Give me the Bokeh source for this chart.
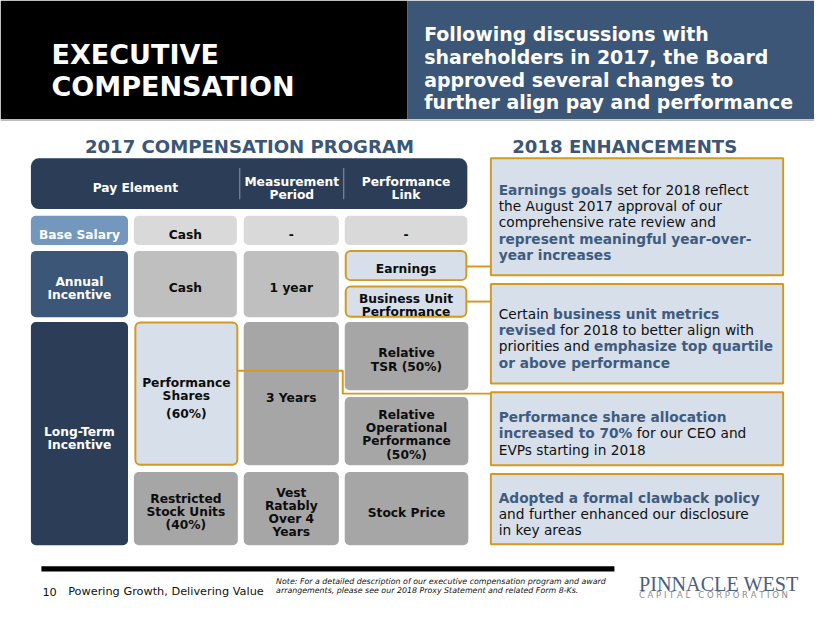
import glob
import os
import struct

from bokeh.plotting import figure
from bokeh.models import Range1d
from bokeh.core.properties import value
from bokeh.embed import file_html
from bokeh.resources import INLINE

# ------------------------------------------------------------------ content
TITLE = ["EXECUTIVE", "COMPENSATION"]
INTRO = ["Following discussions with",
         "shareholders in 2017, the Board",
         "approved several changes to",
         "further align pay and performance"]
LEFT_HEAD = "2017 COMPENSATION PROGRAM"
RIGHT_HEAD = "2018 ENHANCEMENTS"
TABLE_COLUMNS = [["Pay Element"], ["Measurement", "Period"], ["Performance", "Link"]]
PAY_ELEMENTS = [["Base Salary"], ["Annual", "Incentive"], ["Long-Term", "Incentive"]]
VEHICLES = [["Cash"], ["Cash"], ["Performance", "Shares", "(60%)"],
            ["Restricted", "Stock Units", "(40%)"]]
PERIODS = [["-"], ["1 year"], ["3 Years"], ["Vest", "Ratably", "Over 4", "Years"]]
LINKS = [["-"], ["Earnings"], ["Business Unit", "Performance"], ["Relative", "TSR (50%)"],
         ["Relative", "Operational", "Performance", "(50%)"], ["Stock Price"]]
ENH_EARNINGS = [[("Earnings goals", True), (" set for 2018 reflect", False)],
                [("the August 2017 approval of our", False)],
                [("comprehensive rate review and", False)],
                [("represent meaningful year-over-", True)],
                [("year increases", True)]]
ENH_BUSINESS = [[("Certain ", False), ("business unit metrics", True)],
                [("revised", True), (" for 2018 to better align with", False)],
                [("priorities and ", False), ("emphasize top quartile", True)],
                [("or above performance", True)]]
ENH_PSU = [[("Performance share allocation", True)],
           [("increased to 70%", True), (" for our CEO and", False)],
           [("EVPs starting in 2018", False)]]
ENH_CLAWBACK = [[("Adopted a formal clawback policy", True)],
                [("and further enhanced our disclosure", False)],
                [("in key areas", False)]]
FOOT_PAGE = "10"
FOOT_TAG = "Powering Growth, Delivering Value"
FOOT_NOTE = ["Note: For a detailed description of our executive compensation program and award",
             "arrangements, please see our 2018 Proxy Statement and related Form 8-Ks."]
LOGO = "PINNACLE WEST"
LOGO_SUB = "CAPITAL CORPORATION"

# ------------------------------------------------------------------ font metrics
class TTF:
    def __init__(self, path):
        d = open(path, "rb").read()
        self.d = d
        n = struct.unpack(">H", d[4:6])[0]
        t = {}
        for i in range(n):
            tag, _, off, ln = struct.unpack(">4sIII", d[12 + 16 * i:28 + 16 * i])
            t[tag.decode("latin1")] = off
        self.upem = struct.unpack(">H", d[t["head"] + 18:t["head"] + 20])[0]
        nh = struct.unpack(">H", d[t["hhea"] + 34:t["hhea"] + 36])[0]
        hm = t["hmtx"]
        self.adv = [struct.unpack(">H", d[hm + 4 * i:hm + 4 * i + 2])[0] for i in range(nh)]
        cm = t["cmap"]
        nsub = struct.unpack(">H", d[cm + 2:cm + 4])[0]
        sub = None
        for i in range(nsub):
            pid, eid, off = struct.unpack(">HHI", d[cm + 4 + 8 * i:cm + 12 + 8 * i])
            fmt = struct.unpack(">H", d[cm + off:cm + off + 2])[0]
            if fmt == 4 and pid in (0, 3):
                sub = cm + off
                if pid == 3:
                    break
        segx2 = struct.unpack(">H", d[sub + 6:sub + 8])[0]
        s = segx2 // 2
        self.ends = struct.unpack(">%dH" % s, d[sub + 14:sub + 14 + segx2])
        self.starts = struct.unpack(">%dH" % s, d[sub + 16 + segx2:sub + 16 + 2 * segx2])
        self.deltas = struct.unpack(">%dh" % s, d[sub + 16 + 2 * segx2:sub + 16 + 3 * segx2])
        self.rpos = sub + 16 + 3 * segx2
        self.roffs = struct.unpack(">%dH" % s, d[self.rpos:self.rpos + segx2])

    def glyph(self, ch):
        c = ord(ch)
        for i, e in enumerate(self.ends):
            if e >= c:
                if self.starts[i] > c:
                    return 0
                if self.roffs[i] == 0:
                    return (c + self.deltas[i]) & 0xFFFF
                a = self.rpos + 2 * i + self.roffs[i] + 2 * (c - self.starts[i])
                g = struct.unpack(">H", self.d[a:a + 2])[0]
                return (g + self.deltas[i]) & 0xFFFF if g else 0
        return 0

    def width(self, s, size):
        tot = 0
        for ch in s:
            g = self.glyph(ch)
            tot += self.adv[min(g, len(self.adv) - 1)]
        return tot / self.upem * size


class Approx:
    def __init__(self, k):
        self.k = k

    def width(self, s, size):
        return len(s) * self.k * size


def load(name, k):
    for root in ["/usr/share/fonts", "/usr/local/share/fonts", os.path.expanduser("~/.fonts"),
                 os.path.expanduser("~/.local/share/fonts")]:
        hits = glob.glob(os.path.join(root, "**", name), recursive=True)
        if hits:
            try:
                return TTF(hits[0])
            except Exception:
                pass
    return Approx(k)


FR = load("DejaVuSans.ttf", 0.58)
FB = load("DejaVuSans-Bold.ttf", 0.66)
FI = load("DejaVuSans-Oblique.ttf", 0.58)
FS = load("LiberationSerif-Regular.ttf", 0.62)


def fit(font, s, width):
    """font size (in slide units) that makes s span width slide units"""
    return width / font.width(s, 1.0)


# ------------------------------------------------------------------ figure
# The slide is laid out in 830 x 623 slide units and drawn into a 814 x 607 px figure.
W, H = 814, 607
K = W / 830.0  # px per slide unit (used for fonts, line widths and radii)

p = figure(width=W, height=H, x_range=Range1d(0, 830), y_range=Range1d(623, 0),
           output_backend="svg", toolbar_location=None, x_axis_type=None, y_axis_type=None,
           min_border=0, min_border_left=0, min_border_right=0, min_border_top=0,
           min_border_bottom=0)
p.grid.visible = False
p.outline_line_color = None
p.background_fill_color = "#FFFFFF"
p.border_fill_color = "#FFFFFF"

SANS = "DejaVu Sans"
NAVY = "#2C3E57"
SLATE = "#3B5676"
STEEL = "#7397BD"
PALE = "#D6DFEA"
GOLD = "#D4991F"
TXTBLUE = "#3F5B7E"


def box(l, r, t, b, fill, line=None, lw=0.0, radius=0):
    kw = dict(left=[l], right=[r], top=[t], bottom=[b], fill_color=fill,
              line_color=line, line_width=lw * K)
    if radius:
        kw["border_radius"] = int(round(radius * K))
    p.quad(**kw)


def seg(xs, ys, color, lw):
    p.line(x=xs, y=ys, line_color=color, line_width=lw * K)


def txt(x, y, s, size, color="#000000", style="bold", align="left", font=SANS):
    p.text(x=[x], y=[y], text=[s], text_font=value(font), text_font_size="%.2fpx" % (size * K),
           text_font_style=style, text_color=color, text_align=align,
           text_baseline="alphabetic")


# ---- header bands
box(0, 415, 0, 122, "#000000")
box(415, 830, 0, 122, SLATE)
seg([0, 830], [122.8, 122.8], "#BDBDBD", 1.5)

tsize = fit(FB, TITLE[1], 250)
for s, yb in zip(TITLE, [55, 88.5]):
    txt(52, yb, s, tsize, "#FFFFFF")

isize = fit(FB, INTRO[3], 377)
for s, yb in zip(INTRO, [34.5, 58, 81.3, 104.6]):
    txt(432, yb, s, isize, "#FFFFFF")

# ---- section headings
hsize = fit(FB, LEFT_HEAD, 337)
txt(253.8, 150, LEFT_HEAD, hsize, SLATE, align="center")
txt(636.5, 150, RIGHT_HEAD, hsize, SLATE, align="center")

# ---- table header
CS = 12.5
box(31, 476, 162, 214, NAVY, radius=8)
for xd in [244, 350]:
    seg([xd, xd], [172, 204], "#8A98AC", 1)
head_pos = [(137.5, [192.3]), (297, [186, 199.3]), (413.5, [186, 199.3])]
for lines, (xc, ys) in zip(TABLE_COLUMNS, head_pos):
    for s, yb in zip(lines, ys):
        txt(xc, yb, s, CS, "#FFFFFF", align="center")

# ---- table cells: (l, r, t, b, fill, border, text colour, lines, baselines)
cells = [
    (31, 130, 221, 251, STEEL, None, "#FFFFFF", PAY_ELEMENTS[0], [240.5]),
    (136, 241, 221, 251, "#D9D9D9", None, "#0D0D0D", VEHICLES[0], [240.5]),
    (248, 345, 221, 251, "#D9D9D9", None, "#0D0D0D", PERIODS[0], [240.5]),
    (351, 476, 221, 251, "#D9D9D9", None, "#0D0D0D", LINKS[0], [240.5]),
    (31, 130, 257, 325, SLATE, None, "#FFFFFF", PAY_ELEMENTS[1], [288.5, 302]),
    (136, 241, 257, 325, "#BFBFBF", None, "#0D0D0D", VEHICLES[1], [295]),
    (248, 345, 257, 325, "#BFBFBF", None, "#0D0D0D", PERIODS[1], [295]),
    (352, 475, 257, 287, PALE, GOLD, "#0D0D0D", LINKS[1], [276]),
    (352, 475, 293.5, 324.5, PALE, GOLD, "#0D0D0D", LINKS[2], [306.8, 320]),
    (31, 130, 330, 559, NAVY, None, "#FFFFFF", PAY_ELEMENTS[2], [442.5, 456]),
    (137.5, 241.5, 330.5, 476.5, PALE, GOLD, "#0D0D0D", VEHICLES[2], [392.3, 405.7, 424.5]),
    (248, 345, 330, 477, "#A6A6A6", None, "#0D0D0D", PERIODS[2], [408]),
    (351, 477, 330, 400, "#A6A6A6", None, "#0D0D0D", LINKS[3], [362.3, 375.8]),
    (351, 477, 407, 477, "#A6A6A6", None, "#0D0D0D", LINKS[4], [425, 438.8, 452.6, 466.4]),
    (136, 242, 484, 559, "#A6A6A6", None, "#0D0D0D", VEHICLES[3], [511.7, 525.2, 538.7]),
    (248, 345, 484, 559, "#A6A6A6", None, "#0D0D0D", PERIODS[3], [505, 518.7, 532.4, 546]),
    (351, 477, 484, 559, "#A6A6A6", None, "#0D0D0D", LINKS[5], [525.7]),
]
for l, r, t, b, fill, border, tc, lines, ys in cells:
    box(l, r, t, b, fill, border, 2.0 if border else 0.0, radius=5)
    for s, yb in zip(lines, ys):
        txt((l + r) / 2, yb, s, CS, tc, align="center")

# ---- connectors
seg([475, 500], [273, 273], GOLD, 2)
seg([475, 500], [309, 309], GOLD, 2)
seg([242, 349, 349, 500], [380, 380, 403.5, 403.5], GOLD, 2)

# ---- enhancement boxes
BS = 14
enh = [(162, 282, ENH_EARNINGS, [194.3, 211, 227.7, 244.3, 261]),
       (291, 393, ENH_BUSINESS, [321.7, 338.3, 355, 371.7]),
       (402, 477, ENH_PSU, [427.7, 444.3, 461]),
       (486, 558, ENH_CLAWBACK, [510.3, 527, 543.7])]
for t, b, lines, ys in enh:
    box(500, 798, t, b, PALE, GOLD, 2.0)
    for line, yb in zip(lines, ys):
        x = 508.0
        for piece, bold in line:
            f = FB if bold else FR
            lead = len(piece) - len(piece.lstrip(" "))
            core = piece.strip(" ")
            xs = x + f.width(" " * lead, BS)
            txt(xs, yb, core, BS, TXTBLUE if bold else "#111111",
                style="bold" if bold else "normal")
            x += f.width(piece, BS)

# ---- footer
box(41.7, 626, 580.7, 586, "#000000")
fsize = fit(FR, FOOT_TAG, 201)
txt(42.7, 607, FOOT_PAGE, fsize, "#111111", style="normal")
txt(69, 607, FOOT_TAG, fsize, "#111111", style="normal")
nsize = fit(FI, FOOT_NOTE[0], 337)
for s, yb in zip(FOOT_NOTE, [596.5, 606]):
    txt(281, yb, s, nsize, "#111111", style="italic")

lsize = fit(FS, LOGO, 163)
txt(651, 598.5, LOGO, lsize, "#4A5E80", style="normal", font="Liberation Serif")
sub = "\u00a0".join(" ".join(w) for w in LOGO_SUB.split(" "))
sub = sub.replace("\u00a0", "\u00a0\u00a0\u00a0")
ssize = fit(FR, sub, 152)
txt(651, 610.5, sub, ssize, "#8C8C8C", style="normal")

open("out.html", "w").write(file_html(p, INLINE))
